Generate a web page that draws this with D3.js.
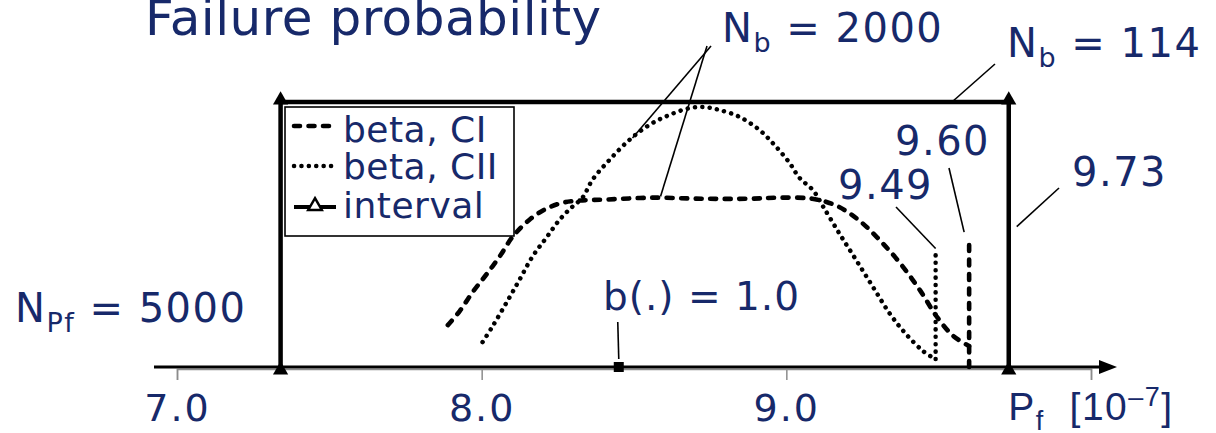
<!DOCTYPE html>
<html>
<head>
<meta charset="utf-8">
<script src="https://cdn.jsdelivr.net/npm/d3@7"></script>
<style>
  html, body { margin: 0; padding: 0; background: #ffffff; }
  svg { display: block; font-family: "DejaVu Sans", Verdana, sans-serif; }
</style>
</head>
<body>
<svg id="chart" width="1216" height="433"></svg>
<script>
// Failure probability P_f [1e-7]: bootstrap beta densities (CI, CII) and the interval estimate

// x-axis ticks
const tickValues = [7, 8, 9, 10];
const tickLabels = ["7.0", "8.0", "9.0", null]; // last tick carries the axis title

// beta, CI (dashed)
const ciX = [7.889, 7.928, 7.970, 8.016, 8.059, 8.102, 8.157, 8.213, 8.266, 8.321, 8.410, 8.561,
             8.725, 8.879, 8.977, 9.085, 9.164, 9.239, 9.308, 9.374, 9.439, 9.495, 9.548, 9.600];
const ciY = [0.158, 0.211, 0.282, 0.350, 0.417, 0.492, 0.556, 0.598, 0.620, 0.628, 0.632, 0.639,
             0.635, 0.635, 0.639, 0.635, 0.609, 0.553, 0.477, 0.391, 0.289, 0.188, 0.117, 0.079];
const ciCutoff = 9.60;
const ciCutoffTop = 0.474;

// beta, CII (dotted)
const ciiX = [8.003, 8.036, 8.082, 8.125, 8.167, 8.213, 8.256, 8.298, 8.331, 8.364, 8.420, 8.485,
              8.551, 8.616, 8.682, 8.731, 8.780, 8.846, 8.911, 8.961, 9.010, 9.043, 9.089, 9.121,
              9.174, 9.230, 9.285, 9.341, 9.393, 9.449, 9.489];
const ciiY = [0.094, 0.154, 0.244, 0.331, 0.417, 0.489, 0.556, 0.605, 0.639, 0.707, 0.782, 0.857,
              0.914, 0.951, 0.977, 0.981, 0.970, 0.944, 0.895, 0.838, 0.771, 0.714, 0.665, 0.605,
              0.504, 0.402, 0.301, 0.199, 0.124, 0.060, 0.030];
const ciiCutoff = 9.49;
const ciiCutoffTop = 0.432;

// interval estimate (N_b = 114)
const intervalLow = 7.34;
const intervalHigh = 9.73;
const intervalX = [intervalLow, intervalLow, intervalHigh, intervalHigh];
const intervalY = [0, 1, 1, 0];

// point estimate b(.) = 1.0
const pointEstimate = 8.45;

// ---------------------------------------------------------------
const NAVY = "#17296a";
const svg = d3.select("#chart");
const x = d3.scaleLinear().domain([7, 10]).range([177, 1091]);
const y = d3.scaleLinear().domain([0, 1]).range([367, 102]);

const pts = (xs, ys) => xs.map((v, i) => [v, ys[i]]);
const line = d3.line().x(d => x(d[0])).y(d => y(d[1]));
const smooth = d3.line().x(d => x(d[0])).y(d => y(d[1])).curve(d3.curveCatmullRom.alpha(0.5));

// writes a label made of plain / sub / sup parts
function richText(g, parts, size, px, py, anchor, spacing) {
  const t = g.append("text")
    .attr("x", px).attr("y", py)
    .attr("fill", NAVY)
    .attr("font-size", size)
    .attr("letter-spacing", spacing == null ? 1.5 : spacing)
    .attr("text-anchor", anchor || "start");
  let shift = 0;
  parts.forEach(p => {
    const [str, kind] = Array.isArray(p) ? p : [p, null];
    const target = kind === "sub" ? 10 : kind === "sup" ? -14 : 0;
    const ts = t.append("tspan").text(str).attr("dy", target - shift);
    if (kind) ts.attr("font-size", Math.round(size * 0.68));
    shift = target;
  });
  return t;
}

// title
svg.append("text")
  .attr("x", 145).attr("y", 35)
  .attr("fill", NAVY).attr("font-size", 50).attr("letter-spacing", 0.5)
  .text("Failure probability");

// grey axis with ticks below the arrow line
const axis = d3.axisBottom(x)
  .tickValues(tickValues)
  .tickSize(11)
  .tickSizeOuter(11)
  .tickFormat((d, i) => tickLabels[i] || "");
const gAxis = svg.append("g").attr("transform", "translate(0,369)").call(axis);
gAxis.select(".domain").attr("stroke", "#8c8c8c").attr("stroke-width", 1.5);
gAxis.selectAll(".tick line").attr("stroke", "#8c8c8c").attr("stroke-width", 1.5);
gAxis.selectAll(".tick text")
  .attr("fill", NAVY).attr("font-size", 38).attr("letter-spacing", 2)
  .attr("font-family", "DejaVu Sans, Verdana, sans-serif")
  .attr("y", 52).attr("dy", null);
// axis title at the last tick: P_f [10^-7]
gAxis.selectAll(".tick").filter(d => d === 10).select("text").remove();
richText(gAxis.append("g").attr("transform", `translate(${x(10)},0)`),
  ["P", ["f", "sub"], "\u00a0\u00a0[10", ["\u20137", "sup"], "]"], 39, 0, 51, "middle", 1.5);

// black x-axis arrow
const axisY = 367;
svg.append("line")
  .attr("x1", 154).attr("x2", 1102)
  .attr("y1", axisY).attr("y2", axisY)
  .attr("stroke", "#000").attr("stroke-width", 3);
svg.append("path")
  .attr("d", `M1117,${axisY} L1099,${axisY - 7} L1099,${axisY + 7} Z`)
  .attr("fill", "#000");

// interval: thick polyline with triangle markers
const intervalPts = pts(intervalX, intervalY);
svg.append("path")
  .attr("d", line(intervalPts))
  .attr("fill", "none").attr("stroke", "#000").attr("stroke-width", 4.5)
  .attr("stroke-linejoin", "miter");
const tri = d3.symbol().type(d3.symbolTriangle).size(100);
svg.selectAll(".imark").data(intervalPts).enter().append("path")
  .attr("transform", d => `translate(${x(d[0])},${y(d[1]) + (d[1] === 0 ? 3 : -2)})`)
  .attr("d", tri).attr("fill", "#000");

// beta, CI — dashed curve plus its cut-off
const dashStyle = s => s.attr("fill", "none").attr("stroke", "#000")
  .attr("stroke-width", 4.6).attr("stroke-dasharray", "6 8.5").attr("stroke-linecap", "round");
dashStyle(svg.append("path").attr("d", smooth(pts(ciX, ciY))));
dashStyle(svg.append("path").attr("d", line([[ciCutoff, 0], [ciCutoff, ciCutoffTop]])));

// beta, CII — dotted curve plus its cut-off
const dotStyle = s => s.attr("fill", "none").attr("stroke", "#000")
  .attr("stroke-width", 4.5).attr("stroke-dasharray", "0.1 7.3").attr("stroke-linecap", "round");
const ciiPts = pts(ciiX, ciiY);
dotStyle(svg.append("path").attr("d", smooth(ciiPts)));
dotStyle(svg.append("path").attr("d", line([[ciiCutoff, ciiY[ciiY.length - 1]], [ciiCutoff, ciiCutoffTop]])));

// point estimate marker
svg.append("rect")
  .attr("x", x(pointEstimate) - 5).attr("y", axisY - 5)
  .attr("width", 10).attr("height", 10).attr("fill", "#000");

// annotations: label text and leader lines pointing at the marks
const leader = (x1, y1, x2, y2) => svg.append("line")
  .attr("x1", x1).attr("y1", y1).attr("x2", x2).attr("y2", y2)
  .attr("stroke", "#000").attr("stroke-width", 1.6);

richText(svg, ["N", ["b", "sub"], " = 2000"], 40, 722, 42);
leader(711, 46, x(8.495), y(0.864));
leader(707, 46, x(8.587), y(0.643));

richText(svg, ["N", ["b", "sub"], " = 114"], 40, 1007, 57);
leader(995, 64, x(9.54), y(1) + 1);

richText(svg, ["9.60"], 40, 895, 155);
leader(949, 168, x(ciCutoff) - 5, y(ciCutoffTop + 0.035));

richText(svg, ["9.49"], 40, 838, 199);
leader(896, 207, x(ciiCutoff), y(ciiCutoffTop + 0.015));

richText(svg, ["9.73"], 40, 1072, 186);
leader(1059, 188, x(intervalHigh) + 8, y(0.53));

richText(svg, ["N", ["Pf", "sub"], " = 5000"], 40, 15, 322);

richText(svg, ["b(.) = 1.0"], 39, 603, 310, "start", 1);
leader(x(pointEstimate) - 1, 322, x(pointEstimate), axisY - 8);

// legend
const lg = svg.append("g");
lg.append("rect")
  .attr("x", 285).attr("y", 107).attr("width", 229).attr("height", 129)
  .attr("fill", "#fff").attr("stroke", "#000").attr("stroke-width", 1.6);
const rows = [
  { label: "beta, CI", kind: "ci", ly: 126, ty: 142 },
  { label: "beta, CII", kind: "cii", ly: 166, ty: 179 },
  { label: "interval", kind: "int", ly: 207, ty: 218 }
];
rows.forEach(r => {
  const s = lg.append("line").attr("x1", 294).attr("x2", 336).attr("y1", r.ly).attr("y2", r.ly);
  if (r.kind === "ci") dashStyle(s);
  else if (r.kind === "cii") dotStyle(s);
  else {
    s.attr("stroke", "#000").attr("stroke-width", 4);
    lg.append("path").attr("transform", `translate(315,${r.ly - 1})`)
      .attr("d", d3.symbol().type(d3.symbolTriangle).size(80))
      .attr("fill", "#fff").attr("stroke", "#000").attr("stroke-width", 2.5);
  }
  lg.append("text").attr("x", 343).attr("y", r.ty)
    .attr("fill", NAVY).attr("font-size", 36).attr("letter-spacing", 0.5).text(r.label);
});
</script>
</body>
</html>
